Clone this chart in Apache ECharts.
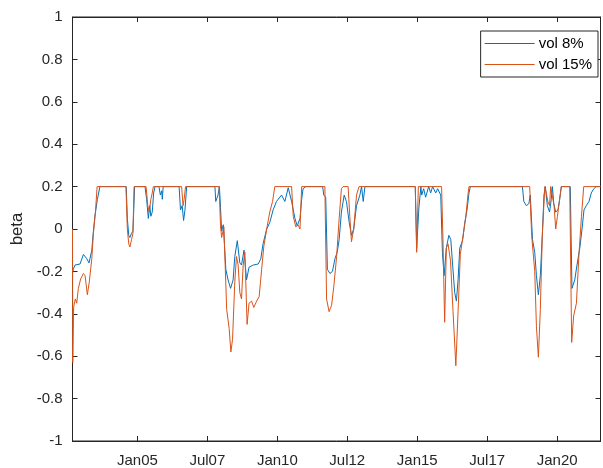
<!DOCTYPE html>
<html>
<head>
<meta charset="utf-8">
<script src="https://cdn.jsdelivr.net/npm/echarts@6/dist/echarts.min.js"></script>
<style>
html,body{margin:0;padding:0;background:#fff;}
#chart{width:603px;height:468px;}
</style>
</head>
<body>
<div id="chart"></div>
<script>
// Tick positions (decimal years) and their labels
const tickYears = [2005, 2007.5, 2010, 2012.5, 2015, 2017.5, 2020];
const tickLabels = ['Jan05', 'Jul07', 'Jan10', 'Jul12', 'Jan15', 'Jul17', 'Jan20'];
const seriesNames = ['vol 8%', 'vol 15%'];

// vol 8% series
const vol8Years = [
  2002.68, 2002.71, 2002.77, 2002.83, 2002.95, 2003.07, 2003.19, 2003.27, 2003.37, 2003.42, 2003.48, 2003.57, 2003.66,
  2004.60, 2004.64, 2004.69, 2004.73, 2004.79, 2004.84, 2004.90,
  2005.27, 2005.33, 2005.39, 2005.44, 2005.48, 2005.53, 2005.58, 2005.63,
  2005.77, 2005.82, 2005.87, 2005.89, 2005.92,
  2006.49, 2006.54, 2006.60, 2006.65, 2006.70, 2006.76,
  2007.77, 2007.80, 2007.88, 2007.93, 2007.97, 2008.01, 2008.07, 2008.16, 2008.24, 2008.33, 2008.42, 2008.48,
  2008.57, 2008.66, 2008.72, 2008.81, 2008.87, 2008.90, 2008.99, 2009.14, 2009.32, 2009.41, 2009.49, 2009.62,
  2009.73, 2009.85, 2009.97, 2010.15, 2010.27, 2010.39, 2010.51, 2010.63, 2010.71, 2010.81, 2010.87, 2010.92, 2011.02,
  2011.62, 2011.66, 2011.73, 2011.79, 2011.88, 2011.97, 2012.06, 2012.14, 2012.21, 2012.29, 2012.39, 2012.47,
  2012.57, 2012.65, 2012.73, 2012.83, 2012.95, 2013.01, 2013.07, 2013.13,
  2014.93, 2014.98, 2015.06, 2015.13, 2015.16, 2015.23, 2015.30, 2015.41, 2015.48, 2015.55, 2015.66, 2015.73, 2015.84,
  2015.90, 2015.96, 2016.04, 2016.13, 2016.20, 2016.26, 2016.34, 2016.40, 2016.46, 2016.52, 2016.62, 2016.70, 2016.78, 2016.85, 2016.90,
  2018.76, 2018.81, 2018.90, 2018.99, 2019.04, 2019.12, 2019.20, 2019.26, 2019.33, 2019.40, 2019.47, 2019.53, 2019.58,
  2019.63, 2019.65, 2019.73, 2019.79, 2019.83, 2019.88, 2019.95, 2020.03, 2020.09, 2020.15,
  2020.47, 2020.53, 2020.63, 2020.71, 2020.81, 2020.89, 2020.96, 2021.04, 2021.14, 2021.22, 2021.31, 2021.40, 2021.55
];
const vol8Values = [
  -0.21, -0.19, -0.17, -0.165, -0.165, -0.12, -0.14, -0.16, -0.10, -0.02, 0.06, 0.14, 0.2,
  0.2, 0.05, -0.03, -0.04, -0.02, -0.01, 0.2,
  0.2, 0.14, 0.05, 0.11, 0.06, 0.08, 0.17, 0.2,
  0.2, 0.16, 0.18, 0.14, 0.2,
  0.2, 0.09, 0.11, 0.04, 0.09, 0.2,
  0.2, 0.13, 0.16, 0.2, 0.1, -0.01, 0.02, -0.19, -0.24, -0.28, -0.24, -0.13,
  -0.055, -0.16, -0.17, -0.10, -0.10, -0.24, -0.18, -0.17, -0.165, -0.14, -0.07, 0.0,
  0.03, 0.09, 0.13, 0.16, 0.13, 0.195, 0.13, 0.05, 0.015, 0.05, 0.14, 0.19, 0.2,
  0.2, 0.16, 0.15, -0.19, -0.21, -0.20, -0.14, -0.11, -0.05, 0.08, 0.16, 0.13,
  0.03, -0.03, 0.0, 0.11, 0.16, 0.2, 0.13, 0.2,
  0.2, -0.09, 0.1, 0.2, 0.16, 0.19, 0.15, 0.2, 0.17, 0.2, 0.17, 0.19, 0.16,
  -0.11, -0.22, -0.09, -0.03, -0.05, -0.16, -0.30, -0.34, -0.24, -0.09, -0.055, 0.03, 0.09, 0.17, 0.2,
  0.2, 0.13, 0.11, 0.12, 0.16, -0.05, -0.11, -0.22, -0.31, -0.22, -0.03, 0.16, 0.2,
  0.2, 0.11, 0.08, 0.14, 0.2, 0.12, 0.08, 0.09, 0.14, 0.2,
  0.2, -0.28, -0.24, -0.17, -0.09, 0.0, 0.09, 0.11, 0.13, 0.17, 0.19, 0.2, 0.2
];

// vol 15% series
const vol15Years = [
  2002.68, 2002.69, 2002.72, 2002.78, 2002.83, 2002.89, 2002.97, 2003.07, 2003.13, 2003.21, 2003.28, 2003.37, 2003.42, 2003.50, 2003.56,
  2004.59, 2004.64, 2004.69, 2004.73, 2004.79, 2004.84, 2004.88,
  2005.31, 2005.37, 2005.42, 2005.48, 2005.53, 2005.57,
  2006.58, 2006.63, 2006.67, 2006.72,
  2007.92, 2007.97, 2008.01, 2008.09, 2008.19, 2008.28, 2008.34, 2008.40, 2008.48, 2008.54, 2008.60, 2008.66,
  2008.72, 2008.78, 2008.84, 2008.92, 2008.99, 2009.08, 2009.16, 2009.26, 2009.35, 2009.44, 2009.52, 2009.62,
  2009.73, 2009.83, 2009.91,
  2010.51, 2010.57, 2010.66, 2010.74, 2010.81, 2010.87,
  2011.70, 2011.76, 2011.85, 2011.94, 2012.02, 2012.12, 2012.21, 2012.29, 2012.35,
  2012.53, 2012.59, 2012.65, 2012.73, 2012.83, 2012.92,
  2014.93, 2014.98, 2015.04,
  2015.87, 2015.92, 2015.98, 2016.04, 2016.10, 2016.19, 2016.28, 2016.38, 2016.46, 2016.54, 2016.64, 2016.73, 2016.82, 2016.85,
  2019.02, 2019.09, 2019.20, 2019.26, 2019.33, 2019.40, 2019.47, 2019.56,
  2019.63, 2019.67, 2019.73, 2019.77,
  2019.84, 2019.89, 2019.95, 2020.01, 2020.09, 2020.15,
  2020.45, 2020.52, 2020.59, 2020.69, 2020.78, 2020.87, 2020.95,
  2021.55
];
const vol15Values = [
  0.0, -0.63, -0.37, -0.33, -0.35, -0.28, -0.236, -0.21, -0.22, -0.31, -0.25, -0.14, -0.03, 0.08, 0.2,
  0.2, 0.0, -0.07, -0.085, -0.05, -0.02, 0.2,
  0.2, 0.11, 0.08, 0.14, 0.17, 0.2,
  0.2, 0.11, 0.14, 0.2,
  0.2, 0.015, -0.04, 0.01, -0.38, -0.47, -0.58, -0.52, -0.25, -0.13, -0.17, -0.30,
  -0.33, -0.17, -0.11, -0.45, -0.35, -0.34, -0.37, -0.34, -0.32, -0.19, -0.08, 0.0,
  0.08, 0.13, 0.2,
  0.2, 0.06, 0.01, 0.02, 0.0, 0.2,
  0.2, -0.33, -0.39, -0.36, -0.27, -0.13, 0.05, 0.19, 0.2,
  0.2, 0.06, -0.06, 0.0, 0.16, 0.2,
  0.2, -0.11, 0.2,
  0.2, -0.05, -0.44, -0.09, -0.07, -0.15, -0.39, -0.645, -0.39, -0.12, -0.03, 0.05, 0.17, 0.2,
  0.2, -0.03, -0.20, -0.46, -0.605, -0.38, -0.03, 0.2,
  0.2, 0.13, 0.11, 0.2,
  0.2, 0.11, 0.0, 0.06, 0.14, 0.2,
  0.2, -0.535, -0.41, -0.35, -0.12, 0.06, 0.2,
  0.2
];

const xMin = 2002.68, xMax = 2021.55;
const axisColor = '#262626';
const font = 'Liberation Sans, Arial, Helvetica, sans-serif';
const lineIcon = 'path://M0,0L100,0L100,2L0,2Z';

function pairs(xs, ys) { return xs.map((x, i) => [x, ys[i]]); }
function tickName(v) {
  const i = tickYears.findIndex(t => Math.abs(t - v) < 1e-6);
  return i >= 0 ? tickLabels[i] : '';
}

const chart = echarts.init(document.getElementById('chart'), null, {renderer: 'canvas'});
const xCommon = {
  type: 'value', min: xMin, max: xMax,
  axisLine: {show: true, onZero: false, lineStyle: {color: axisColor, width: 1}},
  axisTick: {show: true, inside: true, length: 5, lineStyle: {color: axisColor}, customValues: tickYears},
  splitLine: {show: false}
};
const yCommon = {
  type: 'value', min: -1, max: 1, interval: 0.2,
  axisLine: {show: true, onZero: false, lineStyle: {color: axisColor, width: 1}},
  axisTick: {show: true, inside: true, length: 5, lineStyle: {color: axisColor}},
  splitLine: {show: false}
};
chart.setOption({
  animation: false,
  backgroundColor: '#fff',
  grid: {left: 72.5, right: 2.5, top: 17, bottom: 26.5, show: true, borderColor: axisColor, borderWidth: 1, backgroundColor: 'transparent'},
  legend: {
    data: seriesNames.map(n => ({name: n, icon: lineIcon})),
    orient: 'vertical',
    right: 5, top: 31,
    padding: [5, 6, 5, 4],
    borderColor: axisColor, borderWidth: 1,
    backgroundColor: '#fff',
    itemWidth: 50, itemHeight: 14, itemGap: 6,
    textStyle: {fontFamily: font, fontSize: 15, color: '#000', lineHeight: 14, padding: [0, 0, 0, -1]}
  },
  xAxis: [
    Object.assign({}, xCommon, {
      position: 'bottom',
      axisLabel: {show: true, customValues: tickYears, formatter: tickName, fontFamily: font, fontSize: 15, color: axisColor, margin: 12}
    }),
    Object.assign({}, xCommon, {position: 'top', axisLabel: {show: false}})
  ],
  yAxis: [
    Object.assign({}, yCommon, {
      position: 'left',
      name: 'beta', nameLocation: 'middle', nameGap: 46,
      nameTextStyle: {fontFamily: font, fontSize: 16.5, color: axisColor},
      axisLabel: {show: true, fontFamily: font, fontSize: 15, color: axisColor, margin: 10,
        formatter: v => String(Math.round(v * 10) / 10)}
    }),
    Object.assign({}, yCommon, {position: 'right', axisLabel: {show: false}})
  ],
  series: [
    {name: seriesNames[0], type: 'line', data: pairs(vol8Years, vol8Values),
     symbol: 'none', showSymbol: false, xAxisIndex: 0, yAxisIndex: 0,
     lineStyle: {color: '#0072BD', width: 1}, itemStyle: {color: '#0072BD'}},
    {name: seriesNames[1], type: 'line', data: pairs(vol15Years, vol15Values),
     symbol: 'none', showSymbol: false, xAxisIndex: 0, yAxisIndex: 0,
     lineStyle: {color: '#D95319', width: 1}, itemStyle: {color: '#D95319'}}
  ]
});
</script>
</body>
</html>
